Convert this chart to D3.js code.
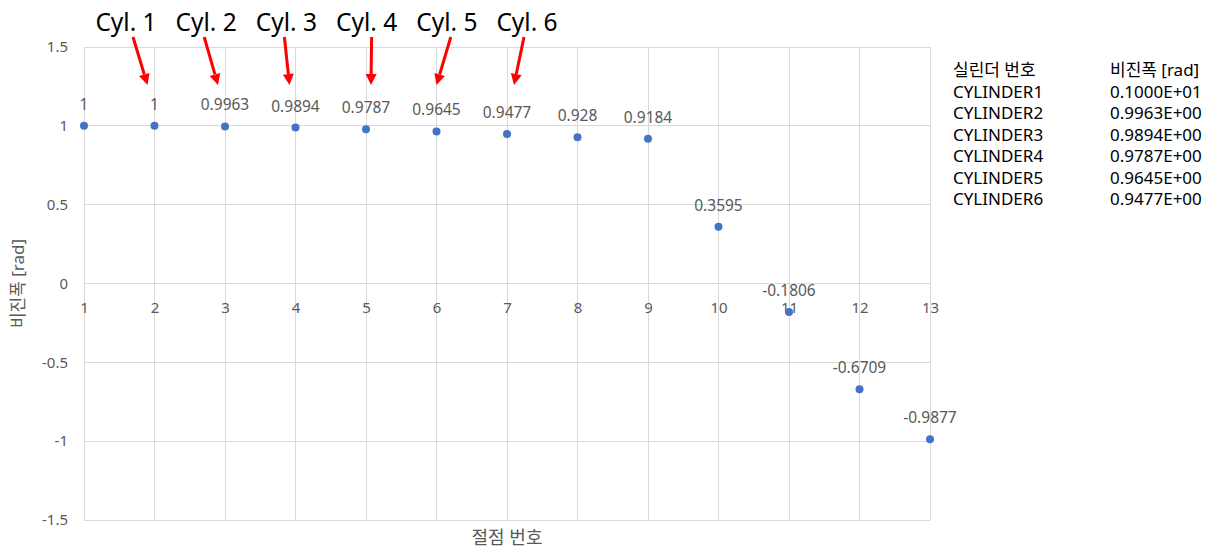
<!DOCTYPE html>
<html><head><meta charset="utf-8">
<script src="https://cdn.jsdelivr.net/npm/d3@7"></script>
<style>
body{margin:0;background:#fff;}
svg{display:block;font-family:"Noto Sans","Noto Sans CJK KR",sans-serif;}
</style></head>
<body><svg id="c" width="1224" height="551"></svg>
<script>
// ---- data ----
const nodes = [1,2,3,4,5,6,7,8,9,10,11,12,13];
const amplitude = [1,1,0.9963,0.9894,0.9787,0.9645,0.9477,0.928,0.9184,0.3595,-0.1806,-0.6709,-0.9877];
const pointLabels = ["1","1","0.9963","0.9894","0.9787","0.9645","0.9477","0.928","0.9184","0.3595","-0.1806","-0.6709","-0.9877"];
const yTicks = [-1.5,-1,-0.5,0,0.5,1,1.5];
const cylLabels = ["Cyl. 1","Cyl. 2","Cyl. 3","Cyl. 4","Cyl. 5","Cyl. 6"];
const cylNodes = [2,3,4,5,6,7];
const tableHeader = ["실린더 번호","비진폭 [rad]"];
const tableNames = ["CYLINDER1","CYLINDER2","CYLINDER3","CYLINDER4","CYLINDER5","CYLINDER6"];
const tableValues = ["0.1000E+01","0.9963E+00","0.9894E+00","0.9787E+00","0.9645E+00","0.9477E+00"];
const xTitle = "절점 번호";
const yTitle = "비진폭 [rad]";

// ---- layout ----
const svg = d3.select("#c");
const x = d3.scaleLinear().domain([1,13]).range([84,930]);
const y = d3.scaleLinear().domain([-1.5,1.5]).range([520,47]);
const grid = "#d9d9d9", txt = "#595959", blue = "#4472C4";

// gridlines
svg.append("g").selectAll("line").data(nodes).join("line")
  .attr("x1",d=>x(d)).attr("x2",d=>x(d)).attr("y1",y(1.5)).attr("y2",y(-1.5))
  .attr("stroke",grid).attr("stroke-width",1).attr("shape-rendering","crispEdges");
svg.append("g").selectAll("line").data(yTicks).join("line")
  .attr("x1",x(1)).attr("x2",x(13)).attr("y1",d=>y(d)).attr("y2",d=>y(d))
  .attr("stroke",grid).attr("stroke-width",1).attr("shape-rendering","crispEdges");

// y axis labels
const yAxis = d3.axisLeft(y).tickValues(yTicks).tickSize(0).tickPadding(16).tickFormat(d=>String(d));
const ya = svg.append("g").attr("transform",`translate(${x(1)},0)`).call(yAxis);
ya.select(".domain").remove();
ya.selectAll("text").attr("fill",txt).style("font-size","15px").style("font-family","'Noto Sans',sans-serif");

// x axis labels (crossing at 0)
const xAxis = d3.axisBottom(x).tickValues(nodes).tickSize(0).tickPadding(19).tickFormat(d3.format("d"));
const xa = svg.append("g").attr("transform",`translate(0,${y(0)})`).call(xAxis);
xa.select(".domain").remove();
xa.selectAll("text").attr("fill",txt).style("font-size","15px").style("font-family","'Noto Sans',sans-serif");

// points
svg.append("g").selectAll("circle").data(amplitude).join("circle")
  .attr("cx",(d,i)=>x(nodes[i])).attr("cy",d=>y(d)).attr("r",4).attr("fill",blue);

// data labels
svg.append("g").selectAll("text").data(amplitude).join("text")
  .attr("x",(d,i)=>x(nodes[i])).attr("y",d=>y(d)-16)
  .attr("text-anchor","middle").attr("fill",txt).style("font-size","15.5px")
  .text((d,i)=>pointLabels[i]);

// axis titles
svg.append("text").attr("x",507).attr("y",544).attr("text-anchor","middle")
  .attr("fill",txt).style("font-size","18px").text(xTitle);
svg.append("text").attr("transform",`translate(24,${y(0)}) rotate(-90)`).attr("text-anchor","middle")
  .attr("fill",txt).style("font-size","17px").text(yTitle);

// Cyl annotations
const labelX = i => 126 + i*80.2;
const startDx = [7,-2,-2,5,4,-3];
const tipDx = [-7,-7,-6,5,0,7];
const ann = svg.append("g");
cylLabels.forEach((lab,i)=>{
  ann.append("text").attr("x",labelX(i)).attr("y",31).attr("text-anchor","middle")
    .attr("fill","#000").style("font-size","24.5px").text(lab);
  const x0 = labelX(i)+startDx[i], y0 = 37;
  const x1 = x(cylNodes[i])+tipDx[i], y1 = y(1.5)+38;
  const ang = Math.atan2(y1-y0,x1-x0);
  const hl = 11, hw = 5.5;
  const bx = x1 - hl*Math.cos(ang), by = y1 - hl*Math.sin(ang);
  ann.append("line").attr("x1",x0).attr("y1",y0).attr("x2",bx).attr("y2",by)
    .attr("stroke","#ff0000").attr("stroke-width",3);
  const px = -Math.sin(ang), py = Math.cos(ang);
  ann.append("polygon").attr("points",
    `${x1},${y1} ${bx+px*hw},${by+py*hw} ${bx-px*hw},${by-py*hw}`).attr("fill","#ff0000");
});

// table
const tb = svg.append("g").style("font-size","17px").attr("fill","#000");
const rowY = i => 76 + i*21.5;
tb.append("text").attr("x",953).attr("y",rowY(0)).text(tableHeader[0]);
tb.append("text").attr("x",1110).attr("y",rowY(0)).text(tableHeader[1]);
tableNames.forEach((n,i)=>{
  tb.append("text").attr("x",953).attr("y",rowY(i+1)).text(n);
  tb.append("text").attr("x",1110).attr("y",rowY(i+1)).text(tableValues[i]);
});
</script></body></html>
